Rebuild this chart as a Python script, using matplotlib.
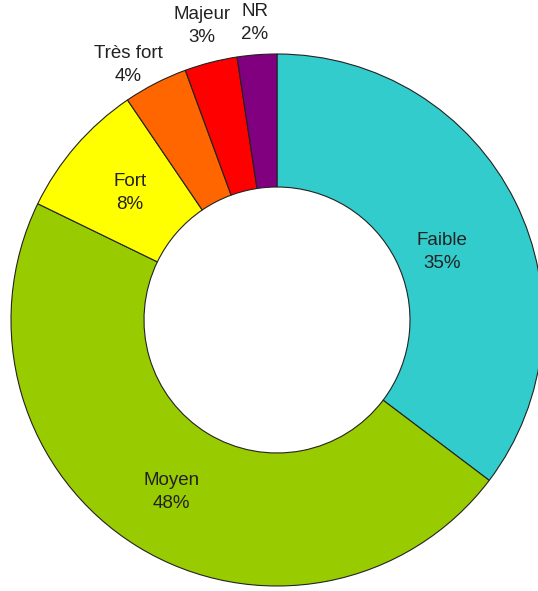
import numpy as np
import matplotlib
matplotlib.use("Agg")
import matplotlib.pyplot as plt

# shares, labels as printed on the chart
categories = ["Faible", "Moyen", "Fort", "Très fort", "Majeur", "NR"]
shares = [35.3, 46.9, 8.3, 3.9, 3.2, 2.4]
pct_labels = ["35%", "48%", "8%", "4%", "3%", "2%"]
colors = ["#33CCCC", "#99CC00", "#FFFF00", "#FF6600", "#FF0000", "#800080"]

# label placement: radial distance (fraction of radius) and angle nudge (deg)
label_dist = [0.67, 0.76, 0.73, 1.11, 1.14, 1.12]
label_nudge = [-4, 0, 0, 3, 0, 0]

W, H = 538, 591
fig = plt.figure(figsize=(W / 100, H / 100), dpi=100)
ax = fig.add_axes([0, 0, 1, 1])

R = 266
cx, cy = 277, H - 320
wedges, _ = ax.pie(shares, colors=colors, radius=R, center=(cx, cy),
                   startangle=90, counterclock=False,
                   wedgeprops=dict(width=0.5 * R, edgecolor="#222222", linewidth=0.8))
ax.set_xlim(0, W)
ax.set_ylim(0, H)
ax.set_aspect("equal")
ax.axis("off")

for w, cat, pct, d, nd in zip(wedges, categories, pct_labels, label_dist, label_nudge):
    ang = np.deg2rad((w.theta1 + w.theta2) / 2 + nd)
    x = cx + d * R * np.cos(ang)
    y = cy + d * R * np.sin(ang)
    ax.text(x, y, cat + "\n" + pct, ha="center", va="center", fontsize=13.5,
            family="Liberation Sans", color="#222222", linespacing=1.45)

plt.savefig("out.png", dpi=100, facecolor="white")
